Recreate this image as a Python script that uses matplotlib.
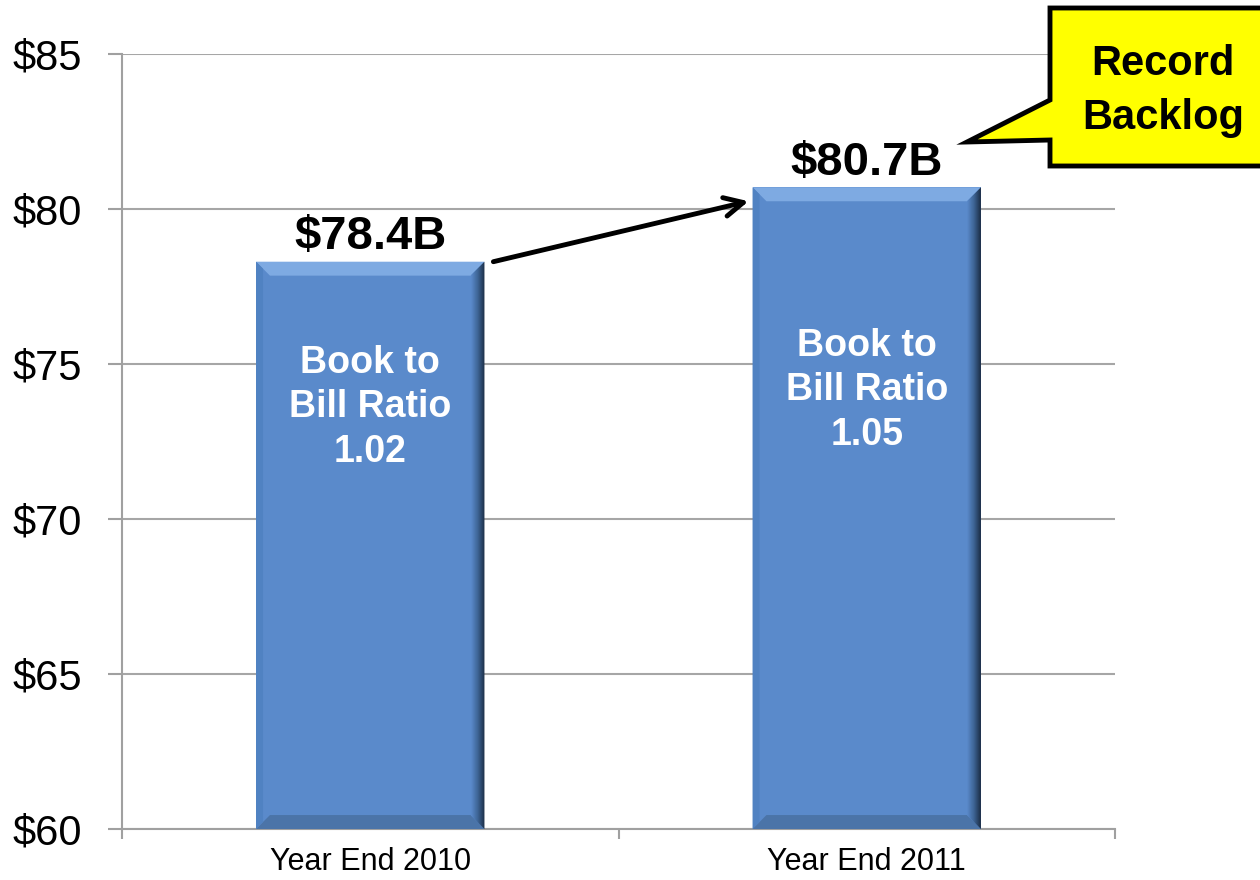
import numpy as np
import matplotlib
matplotlib.use("Agg")
import matplotlib.pyplot as plt
from matplotlib.patches import Polygon
from matplotlib.colors import LinearSegmentedColormap

# data
categories = ["Year End 2010", "Year End 2011"]
backlog = [78.3, 80.7]
value_labels = ["$78.4B", "$80.7B"]
ratio_labels = ["Book to\nBill Ratio\n1.02", "Book to\nBill Ratio\n1.05"]
y_ticks = [60, 65, 70, 75, 80, 85]
y_tick_labels = ["$60", "$65", "$70", "$75", "$80", "$85"]
callout_text = "Record\nBacklog"

# layout
W, H = 1260, 880
BAR_W = 0.46
RATIO_Y = [73.6, 74.15]
FONT = ["Liberation Sans", "DejaVu Sans"]

MAIN = "#5a8acb"
LIGHT = "#7eaae2"
BOTTOM = "#4b74a8"
LEFT = "#5082c2"


def px(x, y):
    # pixel position -> figure fraction
    return (x / W, 1 - y / H)


def draw_bevel(ax, rect):
    x0, y0 = rect.get_x(), rect.get_y()
    x1, y1 = x0 + rect.get_width(), y0 + rect.get_height()
    bx, by = 0.028, 0.45
    top = Polygon([(x0, y1), (x1, y1), (x1 - bx, y1 - by), (x0 + bx, y1 - by)],
                  closed=True, facecolor=LIGHT, edgecolor="none", zorder=4)
    bot = Polygon([(x0, y0), (x1, y0), (x1 - bx, y0 + by), (x0 + bx, y0 + by)],
                  closed=True, facecolor=BOTTOM, edgecolor="none", zorder=4)
    left = Polygon([(x0, y0), (x0, y1), (x0 + bx * 0.5, y1 - by * 0.5), (x0 + bx * 0.5, y0 + by * 0.5)],
                   closed=True, facecolor=LEFT, edgecolor="none", zorder=4)
    right = Polygon([(x1, y1), (x1, y0), (x1 - bx, y0 + by), (x1 - bx, y1 - by)],
                    closed=True, facecolor="none", edgecolor="none", zorder=5)
    for p in (top, bot, left, right):
        ax.add_patch(p)
    cmap = LinearSegmentedColormap.from_list("edge", [MAIN, "#3d6494", "#1b2c44"])
    grad = np.linspace(0, 1, 64).reshape(1, -1)
    im = ax.imshow(grad, cmap=cmap, extent=[x1 - bx, x1, y0, y1], aspect="auto",
                   zorder=5, interpolation="bilinear")
    im.set_clip_path(right)


fig = plt.figure(figsize=(12.6, 8.8), dpi=100)
ax = fig.add_axes([122 / W, 1 - 829 / H, (1115 - 122) / W, (829 - 54) / H])

x = np.arange(len(categories))
bars = ax.bar(x, [v - y_ticks[0] for v in backlog], BAR_W, bottom=y_ticks[0],
              color=MAIN, zorder=3)
for b in bars:
    draw_bevel(ax, b)

ax.set_xlim(-0.5, len(categories) - 0.5)
ax.set_ylim(y_ticks[0], y_ticks[-1])
ax.set_yticks(y_ticks)
ax.set_yticklabels(y_tick_labels, family=FONT, fontsize=30)
ax.set_xticks(x)
ax.set_xticklabels(categories, family=FONT, fontsize=22)
ax.set_xticks(np.arange(len(categories) + 1) - 0.5, minor=True)
ax.tick_params(axis="x", which="major", length=0, pad=13)
ax.tick_params(axis="x", which="minor", length=7, width=1.5, color="#a0a0a0", direction="out")
ax.tick_params(axis="y", length=10, width=1.5, color="#a0a0a0", pad=19)

ax.grid(axis="y", color="#a6a6a6", linewidth=1.5, zorder=0)
ax.set_axisbelow(True)
for s in ["top", "right"]:
    ax.spines[s].set_visible(False)
for s in ["left", "bottom"]:
    ax.spines[s].set_color("#a0a0a0")
    ax.spines[s].set_linewidth(1.5)

# value labels above the bars
for xi, v, lab in zip(x, backlog, value_labels):
    ax.annotate(lab, (xi, v), xytext=(0, 2), textcoords="offset points",
                ha="center", va="bottom", fontsize=34, fontweight="bold",
                family=FONT, color="black", zorder=6)

# book-to-bill text inside bars
for xi, ry, lab in zip(x, RATIO_Y, ratio_labels):
    ax.text(xi, ry, lab, ha="center", va="center", fontsize=27, fontweight="bold",
            family=FONT, color="white", linespacing=1.3, zorder=6)

# growth arrow
ax.annotate("", xy=(x[1] - BAR_W / 2 - 0.008, backlog[1] - 0.45),
            xytext=(x[0] + BAR_W / 2 + 0.018, backlog[0]),
            arrowprops=dict(arrowstyle="->", color="black", lw=3.5, mutation_scale=34,
                            shrinkA=0, shrinkB=0), zorder=6)

# callout box
shape = [px(1050, 8), px(1275, 8), px(1275, 166), px(1050, 166),
         px(1050, 140), px(967, 142), px(1050, 100)]
fig.add_artist(Polygon(shape, closed=True, transform=fig.transFigure,
                       facecolor="#ffff00", edgecolor="black", linewidth=3.5,
                       joinstyle="miter", clip_on=False))
fig.text(*px(1163, 91), callout_text, ha="center", va="center", fontsize=30,
         fontweight="bold", family=FONT, linespacing=1.45)

fig.savefig("out.png", dpi=100, facecolor="white")
